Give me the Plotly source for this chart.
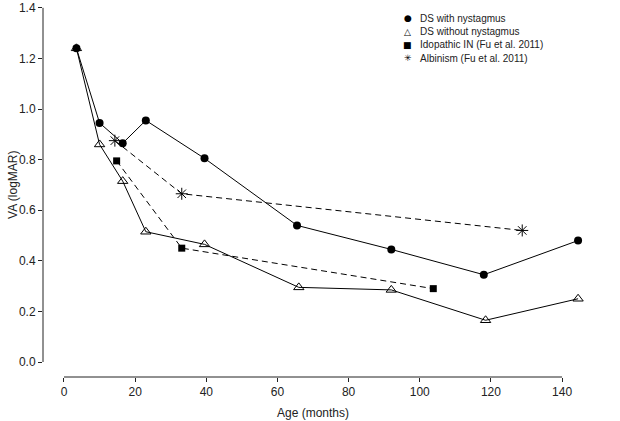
import plotly.graph_objects as go

# ---- data ----
ds_nyst_x = [3.5, 10, 16.5, 23, 39.5, 65.5, 92, 118, 144.5]
ds_nyst_y = [1.24, 0.945, 0.865, 0.955, 0.805, 0.54, 0.445, 0.345, 0.48]

ds_no_x = [3.5, 10, 16.5, 23, 39.5, 66, 92, 118.5, 144.5]
ds_no_y = [1.24, 0.86, 0.715, 0.515, 0.465, 0.295, 0.285, 0.165, 0.25]

idio_x = [14.8, 33.1, 103.8]
idio_y = [0.795, 0.45, 0.29]

alb_x = [14.3, 33.1, 128.8]
alb_y = [0.875, 0.665, 0.52]

x_ticks = [0, 20, 40, 60, 80, 100, 120, 140]
y_ticks = [0.0, 0.2, 0.4, 0.6, 0.8, 1.0, 1.2, 1.4]

legend_labels = ["DS with nystagmus", "DS without nystagmus",
                 "Idopathic IN (Fu et al. 2011)", "Albinism (Fu et al. 2011)"]
legend_symbols = ["\u25CF", "\u25B3", "\u25A0", "\u2733"]

FONT = "Arial, Liberation Sans, Helvetica, sans-serif"
INK = "#222222"

fig = go.Figure()

fig.add_trace(go.Scatter(
    x=idio_x, y=idio_y, mode="lines+markers", name=legend_labels[2],
    line=dict(color="black", width=1, dash="6px,4px"),
    marker=dict(symbol="square", size=7, color="black"), showlegend=False))
fig.add_trace(go.Scatter(
    x=alb_x, y=alb_y, mode="lines+markers", name=legend_labels[3],
    line=dict(color="black", width=1, dash="6px,4px"),
    marker=dict(symbol="asterisk-open", size=10,
                line=dict(color="#333333", width=1)), showlegend=False))
fig.add_trace(go.Scatter(
    x=ds_nyst_x, y=ds_nyst_y, mode="lines+markers", name=legend_labels[0],
    line=dict(color="black", width=1),
    marker=dict(symbol="circle", size=8, color="black"), showlegend=False))
fig.add_trace(go.Scatter(
    x=ds_no_x, y=ds_no_y, mode="lines+markers", name=legend_labels[1],
    line=dict(color="black", width=1),
    marker=dict(symbol="triangle-up-open", size=9,
                line=dict(color="black", width=1)), showlegend=False))

# axis lines spanning only the tick range (R style)
shapes = [
    dict(type="line", xref="x", yref="paper", x0=0, x1=140, y0=0, y1=0,
         line=dict(color=INK, width=1)),
    dict(type="line", xref="paper", yref="y", x0=0, x1=0, y0=0, y1=1.4,
         line=dict(color=INK, width=1)),
]

annotations = [
    dict(text="Age (months)", xref="x", yref="paper", x=70, y=-0.095,
         showarrow=False, font=dict(family=FONT, size=12, color=INK),
         xanchor="center", yanchor="middle"),
    dict(text="VA (logMAR)", xref="paper", yref="y", x=-0.054, y=0.7,
         showarrow=False, textangle=-90,
         font=dict(family=FONT, size=12, color=INK),
         xanchor="center", yanchor="middle"),
]
row_y = [0.952, 0.916, 0.881, 0.845]
for sym, lab, yy in zip(legend_symbols, legend_labels, row_y):
    annotations.append(dict(text=sym, xref="paper", yref="paper",
                            x=0.6575, y=yy, showarrow=False,
                            font=dict(family="DejaVu Sans", size=9, color="black"),
                            xanchor="center", yanchor="middle"))
    annotations.append(dict(text=lab, xref="paper", yref="paper",
                            x=0.6755, y=yy, showarrow=False,
                            font=dict(family=FONT, size=10, color=INK),
                            xanchor="left", yanchor="middle"))

fig.update_layout(
    width=620, height=421,
    margin=dict(l=43, r=22, t=0, b=44),
    paper_bgcolor="white", plot_bgcolor="white",
    showlegend=False,
    shapes=shapes, annotations=annotations,
    xaxis=dict(range=[-5.9, 150.1], tickvals=x_ticks,
               ticktext=[str(v) for v in x_ticks],
               ticks="outside", ticklen=4, tickwidth=1, tickcolor=INK,
               showgrid=False, zeroline=False, showline=False,
               tickfont=dict(family=FONT, size=12, color=INK)),
    yaxis=dict(range=[-0.0593, 1.431], tickvals=y_ticks,
               ticktext=[f"{v:.1f}" for v in y_ticks],
               ticks="outside", ticklen=4, tickwidth=1, tickcolor=INK,
               showgrid=False, zeroline=False, showline=False,
               tickfont=dict(family=FONT, size=12, color=INK)),
)

fig.write_html("out.html",
               config={"displayModeBar": False},
               post_script="document.body.style.margin='0';document.body.style.padding='0';")
